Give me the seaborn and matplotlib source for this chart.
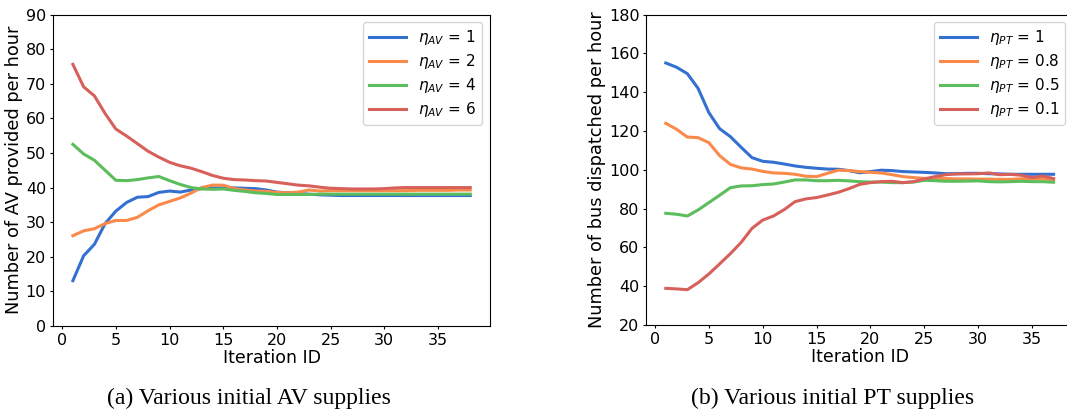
import numpy as np
import pandas as pd
import seaborn as sns
import matplotlib.pyplot as plt

# ---- data ----
iter_av = list(range(1, 39))
av_1 = [13.1, 20.3, 23.6, 29.6, 33.2, 35.7, 37.2, 37.4, 38.6, 39.0,
        38.7, 39.3, 39.7, 39.9, 39.9, 39.9, 39.8, 39.7, 39.3, 38.7,
        38.5, 38.3, 38.1, 37.9, 37.8, 37.7, 37.7, 37.7, 37.7, 37.7,
        37.7, 37.7, 37.7, 37.7, 37.7, 37.7, 37.7, 37.7]
av_2 = [26.1, 27.5, 28.1, 29.6, 30.5, 30.5, 31.4, 33.3, 35.0, 36.0,
        37.0, 38.4, 40.0, 40.7, 40.7, 39.7, 39.3, 39.0, 38.9, 38.6,
        38.5, 38.7, 39.3, 39.0, 39.1, 39.1, 39.1, 39.1, 39.1, 39.1,
        39.1, 39.1, 39.2, 39.2, 39.2, 39.2, 39.3, 39.3]
av_4 = [52.5, 49.7, 47.9, 45.0, 42.1, 42.0, 42.3, 42.8, 43.2, 42.0,
        40.9, 40.0, 39.6, 39.5, 39.6, 39.2, 38.9, 38.5, 38.3, 38.0,
        38.0, 38.0, 38.0, 38.1, 38.1, 38.1, 38.1, 38.1, 38.1, 38.1,
        38.1, 38.1, 38.1, 38.1, 38.1, 38.1, 38.1, 38.1]
av_6 = [75.6, 69.1, 66.5, 61.4, 56.9, 54.9, 52.7, 50.5, 48.8, 47.3,
        46.3, 45.6, 44.6, 43.5, 42.7, 42.3, 42.2, 42.0, 41.9, 41.5,
        41.1, 40.7, 40.5, 40.1, 39.8, 39.7, 39.6, 39.6, 39.6, 39.7,
        39.9, 40.0, 40.0, 40.0, 40.0, 40.0, 40.0, 40.0]

iter_pt = list(range(1, 38))
pt_1 = [155.1, 152.9, 149.6, 142.0, 129.5, 121.2, 117.1, 111.6, 106.3, 104.4,
        103.9, 103.0, 102.0, 101.3, 100.8, 100.4, 100.3, 99.6, 98.5, 99.1,
        99.8, 99.6, 99.1, 98.9, 98.7, 98.4, 98.0, 98.0, 98.2, 98.2,
        98.0, 97.9, 97.7, 97.7, 97.7, 97.7, 97.7]
pt_08 = [124.0, 120.9, 116.9, 116.6, 114.0, 107.3, 102.8, 101.0, 100.4, 99.2,
         98.4, 98.2, 97.7, 96.7, 96.5, 98.2, 99.8, 99.6, 99.1, 98.7,
         98.4, 97.5, 96.5, 96.0, 95.6, 95.5, 95.5, 95.3, 95.3, 95.2,
         95.2, 95.1, 95.1, 95.4, 95.4, 95.4, 94.8]
pt_05 = [77.6, 77.1, 76.2, 79.3, 83.1, 86.9, 90.8, 91.7, 91.8, 92.4,
         92.7, 93.7, 94.8, 94.8, 94.4, 94.4, 94.6, 94.3, 93.9, 93.7,
         93.7, 93.4, 93.4, 93.7, 94.6, 94.4, 94.1, 94.1, 94.2, 94.3,
         93.9, 93.8, 93.9, 94.1, 93.9, 93.9, 93.6]
pt_01 = [38.9, 38.6, 38.2, 41.8, 46.3, 51.5, 56.8, 62.6, 69.8, 74.1,
         76.2, 79.5, 83.6, 85.0, 85.7, 87.0, 88.4, 90.3, 92.5, 93.4,
         93.9, 94.1, 93.4, 93.9, 95.3, 96.5, 97.5, 97.9, 97.9, 98.0,
         98.4, 97.5, 97.7, 97.2, 96.0, 96.8, 95.5]

av_labels = [r'$\eta_{AV}$ = 1', r'$\eta_{AV}$ = 2', r'$\eta_{AV}$ = 4', r'$\eta_{AV}$ = 6']
pt_labels = [r'$\eta_{PT}$ = 1', r'$\eta_{PT}$ = 0.8', r'$\eta_{PT}$ = 0.5', r'$\eta_{PT}$ = 0.1']

# long-form tables for seaborn
df_av = pd.concat([pd.DataFrame({'it': iter_av, 'val': v, 'case': lab})
                   for v, lab in zip([av_1, av_2, av_4, av_6], av_labels)])
df_pt = pd.concat([pd.DataFrame({'it': iter_pt, 'val': v, 'case': lab})
                   for v, lab in zip([pt_1, pt_08, pt_05, pt_01], pt_labels)])

pal = ['#3470d0', '#f98a4a', '#5cbd5c', '#d8605b']
plt.rcParams['font.family'] = ['DejaVu Sans']

fig = plt.figure(figsize=(10.67, 4.16), dpi=100)
ax1 = fig.add_axes([0.0497, 0.2163, 0.4096, 0.7488])
ax2 = fig.add_axes([0.6058, 0.2188, 0.3998, 0.7459])

sns.lineplot(data=df_av, x='it', y='val', hue='case', hue_order=av_labels,
             palette=pal, linewidth=2.2, ax=ax1)
sns.lineplot(data=df_pt, x='it', y='val', hue='case', hue_order=pt_labels,
             palette=pal, linewidth=2.2, ax=ax2)

ax1.set_ylim(0, 90)
ax2.set_ylim(20, 180)
ax1.set_xticks(range(0, 40, 5))
ax2.set_xticks(range(0, 40, 5))

ax1.set_ylabel('Number of AV provided per hour', fontsize=12.8, labelpad=2)
ax2.set_ylabel('Number of bus dispatched per hour', fontsize=12.8, labelpad=2)
for ax in (ax1, ax2):
    ax.set_xlabel('Iteration ID', fontsize=12.5, labelpad=1)
    ax.tick_params(labelsize=11.5, length=2.5, pad=2.5)
    ax.legend(loc='upper right', fontsize=11, title=None, handlelength=2.4,
              labelspacing=0.32)

fig.text(0.233, 0.043, '(a) Various initial AV supplies', family='Liberation Serif',
         fontsize=17, ha='center', va='center')
fig.text(0.78, 0.043, '(b) Various initial PT supplies', family='Liberation Serif',
         fontsize=17, ha='center', va='center')

fig.savefig('out.png', dpi=100)
